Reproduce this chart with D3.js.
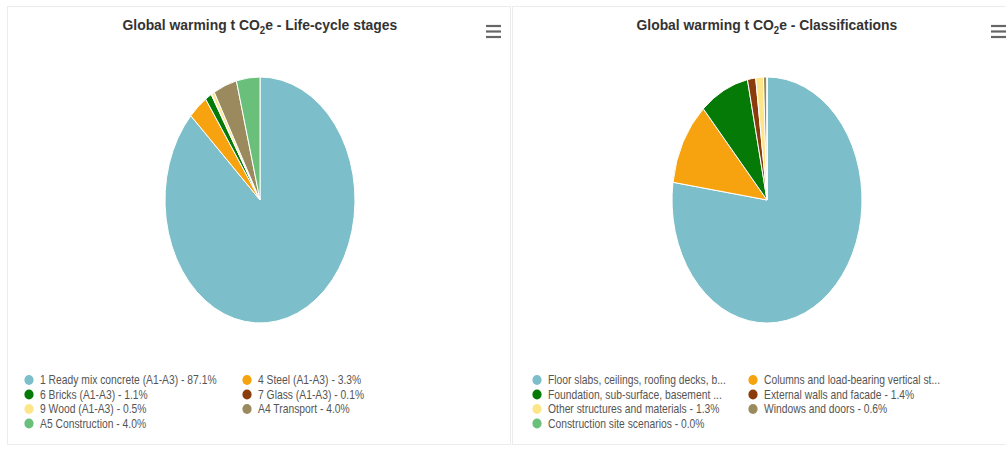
<!DOCTYPE html>
<html>
<head>
<meta charset="utf-8">
<script src="https://cdn.jsdelivr.net/npm/d3@7/dist/d3.min.js"></script>
<style>
  html, body { margin: 0; padding: 0; background: #fff; }
  svg { display: block; font-family: "Liberation Sans", Arial, sans-serif; }
</style>
</head>
<body>
<svg id="chart" width="1006" height="450"></svg>
<script>
// Life-cycle stages (percent of total global warming, t CO2e)
const stageNames = [
  "1 Ready mix concrete (A1-A3)",
  "4 Steel (A1-A3)",
  "6 Bricks (A1-A3)",
  "7 Glass (A1-A3)",
  "9 Wood (A1-A3)",
  "A4 Transport",
  "A5 Construction"
];
const stageValues = [87.1, 3.3, 1.1, 0.1, 0.5, 4.0, 4.0];

// Building classifications (percent of total)
const classNames = [
  "Floor slabs, ceilings, roofing decks, beams and roof",
  "Columns and load-bearing vertical structures",
  "Foundation, sub-surface, basement and retaining walls",
  "External walls and facade",
  "Other structures and materials",
  "Windows and doors",
  "Construction site scenarios"
];
const classValues = [77.3, 11.0, 8.4, 1.4, 1.3, 0.6, 0.0];

const palette = ["#7cbfca", "#f7a30f", "#067a06", "#8b3c0c", "#fde58a", "#9a8a5e", "#6abf7b"];

const svg = d3.select("#chart");

// horizontal squeeze applied to the round marks and the text
const PIE_RX = 95, PIE_RY = 123;
const TEXT_SX = 0.86;

function panel(opts) {
  const g = svg.append("g");
  // panel frame
  g.append("rect")
    .attr("x", opts.x0 + 0.5).attr("y", 6.5)
    .attr("width", opts.w).attr("height", 438)
    .attr("fill", "#fff").attr("stroke", "#ececec");

  // title with subscript 2
  const title = g.append("text")
    .attr("y", 30)
    .attr("font-size", 14.5)
    .attr("font-weight", "bold")
    .attr("fill", "#333");
  title.append("tspan").text("Global warming t CO");
  title.append("tspan").attr("font-size", 10).attr("dy", 4).text("2");
  title.append("tspan").attr("dy", -4).text("e - " + opts.title);
  const tw = title.node().getComputedTextLength();
  const tsx = opts.titleWidth / tw;
  title.attr("transform", `translate(${opts.cx - opts.titleWidth / 2},0) scale(${tsx},1)`);

  // menu icon
  const menu = g.append("g").attr("transform", `translate(${opts.menuX},0)`);
  [26, 31.5, 37].forEach(y => {
    menu.append("line")
      .attr("x1", 0).attr("x2", 15).attr("y1", y).attr("y2", y)
      .attr("stroke", "#666").attr("stroke-width", 2.2);
  });

  // pie
  const pie = d3.pie().sort(null).value(d => d.value);
  const arc = d3.arc().innerRadius(0).outerRadius(PIE_RY);
  const data = opts.names.map((n, i) => ({ name: n, value: opts.values[i], color: palette[i] }));
  const pg = g.append("g")
    .attr("transform", `translate(${opts.cx},${opts.cy}) scale(${PIE_RX / PIE_RY},1)`);
  pg.selectAll("path")
    .data(pie(data))
    .join("path")
    .attr("d", arc)
    .attr("fill", d => d.data.color)
    .attr("stroke", "#fff")
    .attr("stroke-width", 1)
    .attr("vector-effect", "non-scaling-stroke");

  // legend, two columns; long labels are cut with an ellipsis
  const lg = g.append("g");
  data.forEach((d, i) => {
    const col = i % 2, row = Math.floor(i / 2);
    const x = opts.legendX[col], y = 384 + row * 14.5;
    lg.append("ellipse")
      .attr("cx", x).attr("cy", y - 4)
      .attr("rx", 4.6).attr("ry", 5)
      .attr("fill", d.color);
    const t = lg.append("text")
      .attr("font-size", 12)
      .attr("fill", "#555")
      .attr("transform", `translate(${x + 11},${y}) scale(${TEXT_SX},1)`);
    t.text(d.name + " - " + d.value.toFixed(1) + "%");
    if (t.node().getComputedTextLength() > opts.legendMax) {
      let s = d.name;
      while (s.length > 1) {
        s = s.slice(0, -1);
        t.text(s + "...");
        if (t.node().getComputedTextLength() <= opts.legendMax) break;
      }
    }
  });
}

panel({
  x0: 7, w: 503, cx: 260, cy: 200,
  title: "Life-cycle stages", titleWidth: 275,
  menuX: 486,
  names: stageNames, values: stageValues,
  legendX: [29, 247], legendMax: 212
});

panel({
  x0: 512, w: 500, cx: 767, cy: 200,
  title: "Classifications", titleWidth: 261,
  menuX: 991,
  names: classNames, values: classValues,
  legendX: [537, 753], legendMax: 207
});
</script>
</body>
</html>
